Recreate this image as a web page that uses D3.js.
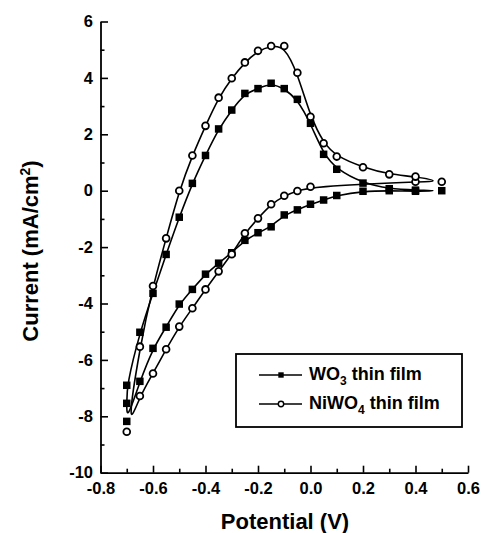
<!DOCTYPE html>
<html>
<head>
<meta charset="utf-8">
<script src="https://cdn.jsdelivr.net/npm/d3@7"></script>
<style>
  html, body { margin: 0; padding: 0; background: #fff; }
  svg { display: block; }
  text { font-family: "Liberation Sans", Arial, Helvetica, sans-serif; font-weight: bold; fill: #000; }
</style>
</head>
<body>
<svg id="chart" width="484" height="533"></svg>
<script>
// ---- Data (cyclic voltammograms, cathodic sweep from 0.5 V then anodic sweep back) ----
const wo3Potential = [0.5, 0.4, 0.3, 0.2, 0.1, 0.05, 0.0, -0.05, -0.1, -0.15, -0.2, -0.25, -0.3, -0.35, -0.4, -0.45, -0.5, -0.55, -0.6, -0.65, -0.7, -0.7, -0.7,
  -0.65, -0.6, -0.55, -0.5, -0.45, -0.4, -0.35, -0.3, -0.25, -0.2, -0.15, -0.1, -0.05, 0.0, 0.05, 0.1, 0.2, 0.3, 0.4];
const wo3Current = [0.0, -0.02, 0.0, -0.02, -0.17, -0.33, -0.48, -0.68, -0.86, -1.28, -1.49, -1.76, -2.2, -2.57, -2.96, -3.5, -4.02, -4.84, -5.59, -6.76, -8.18, -7.54, -6.9,
  -5.02, -3.64, -2.26, -0.94, 0.26, 1.25, 2.19, 2.86, 3.45, 3.62, 3.81, 3.62, 3.24, 2.39, 1.29, 0.76, 0.27, 0.07, 0.02];

const niwo4Potential = [0.5, 0.4, 0.0, -0.05, -0.1, -0.15, -0.2, -0.25, -0.3, -0.35, -0.4, -0.45, -0.5, -0.55, -0.6, -0.65, -0.7,
  -0.65, -0.6, -0.55, -0.5, -0.45, -0.4, -0.35, -0.3, -0.25, -0.2, -0.15, -0.1, -0.05, 0.0, 0.05, 0.1, 0.2, 0.3, 0.4];
const niwo4Current = [0.32, 0.32, 0.14, -0.01, -0.18, -0.48, -0.98, -1.51, -2.25, -2.86, -3.5, -4.17, -4.82, -5.62, -6.48, -7.28, -8.55,
  -5.53, -3.38, -1.69, 0.0, 1.25, 2.3, 3.3, 3.99, 4.55, 4.96, 5.13, 5.13, 4.18, 2.62, 1.68, 1.21, 0.83, 0.58, 0.50];

const xMajorTicks = [-0.8, -0.6, -0.4, -0.2, 0.0, 0.2, 0.4, 0.6];
const xMinorTicks = [-0.7, -0.5, -0.3, -0.1, 0.1, 0.3, 0.5];
const yMajorTicks = [-10, -8, -6, -4, -2, 0, 2, 4, 6];
const yMinorTicks = [-9, -7, -5, -3, -1, 1, 3, 5];

const seriesNames = ["WO3", "NiWO4"];

// ---- Layout ----
const svg = d3.select("#chart");
const x = d3.scaleLinear().domain([-0.8, 0.6]).range([100.5, 468]);
const y = d3.scaleLinear().domain([-10, 6]).range([472.7, 21.5]);

// X axis (ticks inward)
const gx = svg.append("g").attr("transform", `translate(0,${y(-10)})`);
gx.call(d3.axisBottom(x).tickValues(xMajorTicks).tickSizeInner(-7).tickSizeOuter(0).tickPadding(10)
  .tickFormat(d => d3.format(".1f")(d).replace("−", "-")));
gx.select(".domain").attr("stroke-width", 1.8);
gx.selectAll(".tick line").attr("stroke-width", 1.6);
const gxm = svg.append("g").attr("transform", `translate(0,${y(-10)})`);
gxm.call(d3.axisBottom(x).tickValues(xMinorTicks).tickSizeInner(-4).tickSizeOuter(0).tickFormat(""));
gxm.select(".domain").remove();
gxm.selectAll(".tick line").attr("stroke-width", 1.6);

// Y axis (ticks inward)
const gy = svg.append("g").attr("transform", `translate(${x(-0.8)},0)`);
gy.call(d3.axisLeft(y).tickValues(yMajorTicks).tickSizeInner(-7.5).tickSizeOuter(0).tickPadding(7.5)
  .tickFormat(d => String(d)));
gy.select(".domain").attr("stroke-width", 1.8);
gy.selectAll(".tick line").attr("stroke-width", 1.6);
const gym = svg.append("g").attr("transform", `translate(${x(-0.8)},0)`);
gym.call(d3.axisLeft(y).tickValues(yMinorTicks).tickSizeInner(-4).tickSizeOuter(0).tickFormat(""));
gym.select(".domain").remove();
gym.selectAll(".tick line").attr("stroke-width", 1.6);

svg.selectAll(".tick text").attr("font-family", null).attr("font-size", null).style("font-size", "16.5px");

// Axis titles
svg.append("text").attr("x", 285).attr("y", 529).attr("text-anchor", "middle")
  .style("font-size", "22px").text("Potential (V)");
const yt = svg.append("text").attr("transform", "translate(38,251) rotate(-90)")
  .attr("text-anchor", "middle").style("font-size", "22px");
yt.append("tspan").text("Current (mA/cm");
yt.append("tspan").attr("dy", -8).style("font-size", "14px").text("2");
yt.append("tspan").attr("dy", 8).text(")");

// ---- Series ----
const wo3 = wo3Potential.map((p, i) => [p, wo3Current[i]]);
const niwo4 = niwo4Potential.map((p, i) => [p, niwo4Current[i]]);
const line = d3.line().x(d => x(d[0])).y(d => y(d[1])).curve(d3.curveBasisClosed);

const sq = 7.5;
svg.append("path").datum(wo3).attr("d", line).attr("fill", "none").attr("stroke", "#000").attr("stroke-width", 1.6);
svg.append("g").selectAll("rect").data(wo3).join("rect")
  .attr("x", d => x(d[0]) - sq / 2).attr("y", d => y(d[1]) - sq / 2)
  .attr("width", sq).attr("height", sq).attr("fill", "#000");

svg.append("path").datum(niwo4).attr("d", line).attr("fill", "none").attr("stroke", "#000").attr("stroke-width", 1.6);
svg.append("g").selectAll("circle").data(niwo4).join("circle")
  .attr("cx", d => x(d[0])).attr("cy", d => y(d[1])).attr("r", 3.4)
  .attr("fill", "#fff").attr("stroke", "#000").attr("stroke-width", 1.8);

// ---- Legend ----
const lg = svg.append("g");
lg.append("rect").attr("x", 236).attr("y", 354).attr("width", 226).attr("height", 73)
  .attr("fill", "#fff").attr("stroke", "#000").attr("stroke-width", 1.8);
const rows = [375, 404];
rows.forEach((ry, i) => {
  lg.append("line").attr("x1", 259).attr("x2", 302).attr("y1", ry).attr("y2", ry)
    .attr("stroke", "#000").attr("stroke-width", 1.4);
  if (i === 0) {
    lg.append("rect").attr("x", 281 - 2.7).attr("y", ry - 2.7).attr("width", 5.4).attr("height", 5.4).attr("fill", "#000");
  } else {
    lg.append("circle").attr("cx", 281).attr("cy", ry).attr("r", 2.7).attr("fill", "#fff")
      .attr("stroke", "#000").attr("stroke-width", 1.4);
  }
  const t = lg.append("text").attr("x", 309).attr("y", ry + 5).style("font-size", "18px");
  const name = seriesNames[i];
  const base = name.slice(0, -1), sub = name.slice(-1);
  t.append("tspan").text(base);
  t.append("tspan").attr("dy", 5).style("font-size", "12px").text(sub);
  t.append("tspan").attr("dy", -5).text(" thin film");
});
</script>
</body>
</html>
